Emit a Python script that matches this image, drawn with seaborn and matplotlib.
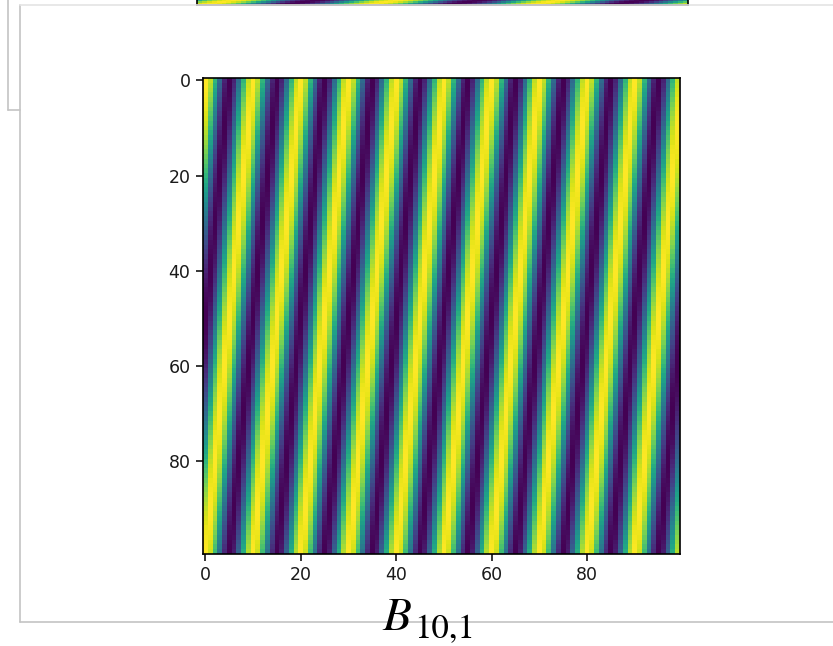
import numpy as np
import matplotlib
matplotlib.use("Agg")
import matplotlib.pyplot as plt
from matplotlib.lines import Line2D
import seaborn as sns

# ---- data: 2D DFT cosine basis image B_{k,l} on an N x N grid ----
N = 100
k_freq = 10
l_freq = 1
tick_values = [0, 20, 40, 60, 80]
tick_labels = ["0", "20", "40", "60", "80"]
title_main = "B"
title_sub = "10,1"

# previous (cut-off) image shown above
prev_k = 3
prev_l = 7

cols = np.arange(N)
rows = np.arange(N)
basis = np.cos(2 * np.pi * (k_freq * cols[None, :] + l_freq * rows[:, None]) / N)
prev_basis = np.cos(2 * np.pi * (prev_k * cols[None, :] + prev_l * rows[:, None]) / N)

sns.set_style("white")
plt.rcParams["font.family"] = ["DejaVu Sans"]

W, H = 833, 646
fig = plt.figure(figsize=(W / 100, H / 100), dpi=100)
fig.patch.set_facecolor("white")

def fx(px):
    return px / W

def fy(py):
    return 1 - py / H

# ---- notebook frame decorations ----
fig.add_artist(Line2D([fx(7.5), fx(7.5)], [fy(0), fy(110)], color="#c4c4c4", lw=1.2))
fig.add_artist(Line2D([fx(7.5), fx(20)], [fy(110), fy(110)], color="#c4c4c4", lw=1.2))
fig.add_artist(Line2D([fx(20), fx(20)], [fy(5), fy(622)], color="#c4c4c4", lw=1.2))
fig.add_artist(Line2D([fx(20), fx(833)], [fy(5), fy(5)], color="#e4e4e4", lw=1.2))
fig.add_artist(Line2D([fx(20), fx(833)], [fy(622), fy(622)], color="#c4c4c4", lw=1.2))

# ---- previous image strip (only its bottom edge visible) ----
ax_prev = fig.add_axes([fx(197), fy(4.5), fx(688) - fx(197), 0.3])
sns.heatmap(prev_basis, ax=ax_prev, cmap="viridis", cbar=False, xticklabels=False, yticklabels=False)
for sp in ax_prev.spines.values():
    sp.set_visible(True)
    sp.set_color("black")
    sp.set_linewidth(1.2)

# ---- main heatmap ----
ax = fig.add_axes([fx(203), fy(554), fx(680) - fx(203), fy(78) - fy(554)])
sns.heatmap(basis, ax=ax, cmap="viridis", cbar=False, xticklabels=False, yticklabels=False)
pos = [v + 0.5 for v in tick_values]
ax.set_xticks(pos)
ax.set_xticklabels(tick_labels, rotation=0, fontsize=12.5)
ax.set_yticks(pos)
ax.set_yticklabels(tick_labels, rotation=0, fontsize=12.5)
ax.tick_params(axis="both", which="major", length=5, width=1.1, color="black",
               labelcolor="#1a1a1a", pad=4, bottom=True, left=True)
for sp in ax.spines.values():
    sp.set_visible(True)
    sp.set_color("black")
    sp.set_linewidth(1.2)

# ---- title: italic B with a large subscript ----
fig.text(fx(382), fy(630), title_main, ha="left", va="baseline", fontsize=34,
         family=["STIXGeneral", "DejaVu Serif"], style="italic", color="black")
fig.text(fx(414), fy(638), title_sub, ha="left", va="baseline", fontsize=25,
         family=["STIXGeneral", "DejaVu Serif"], color="black")

fig.savefig("out.png", dpi=100, facecolor="white")
